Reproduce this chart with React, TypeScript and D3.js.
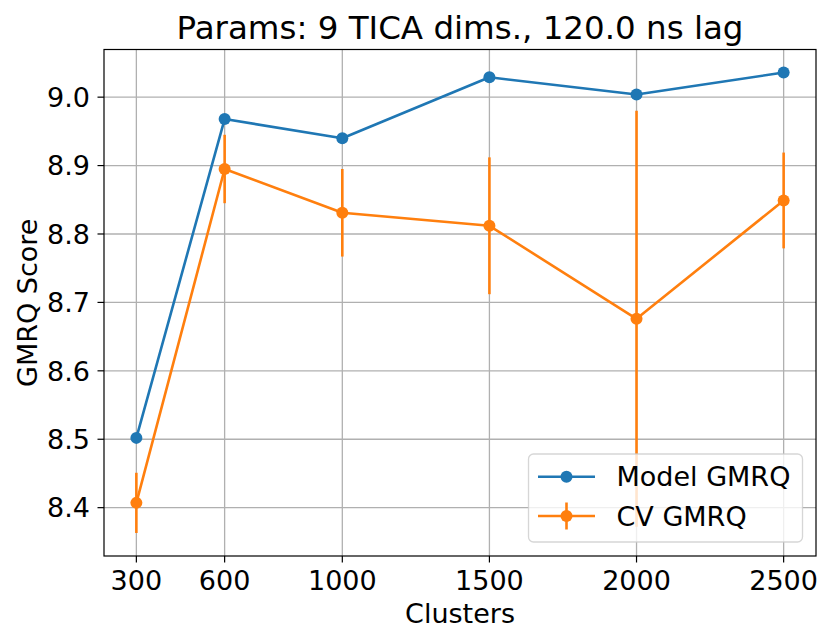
import React from "react";
import * as d3 from "d3";

// Number of clusters tested
const clusters = [300, 600, 1000, 1500, 2000, 2500];
// GMRQ score of the fitted model on the training data
const modelScores = [8.502, 8.968, 8.94, 9.029, 9.004, 9.036];
// Cross-validated GMRQ score (mean) and its spread
const cvScores = [8.407, 8.895, 8.831, 8.812, 8.676, 8.849];
const cvErrors = [0.044, 0.05, 0.064, 0.1, 0.304, 0.07];
// Axis ticks
const xTicks = [300, 600, 1000, 1500, 2000, 2500];
const yTicks = [8.4, 8.5, 8.6, 8.7, 8.8, 8.9, 9.0];

const W = 822;
const H = 630;
const M = { left: 104, right: 816, top: 49.5, bottom: 556 };
const FONT = "'DejaVu Sans', sans-serif";
const BLUE = "#1f77b4";
const ORANGE = "#ff7f0e";

export default function App() {
  const xMin = d3.min(clusters)!;
  const xMax = d3.max(clusters)!;
  const xPad = (xMax - xMin) * 0.05;
  const x = d3.scaleLinear().domain([xMin - xPad, xMax + xPad]).range([M.left, M.right]);

  const lo = d3.min(cvScores.map((v, i) => v - cvErrors[i]))!;
  const hi = d3.max([...modelScores, ...cvScores.map((v, i) => v + cvErrors[i])])!;
  const yPad = (hi - lo) * 0.05;
  const y = d3.scaleLinear().domain([lo - yPad, hi + yPad]).range([M.bottom, M.top]);

  const line = d3
    .line<number>()
    .x((_, i) => x(clusters[i]))
    .y((v) => y(v));

  const lw = 2.6;
  const r = 6;

  const legX = 528.5;
  const legY = 454;
  const legW = 274;
  const legH = 88;
  const row1 = 476.7;
  const row2 = 516;
  const hx0 = 538;
  const hx1 = 595;
  const hxm = (hx0 + hx1) / 2;

  return (
    <svg width={W} height={H} style={{ display: "block", position: "absolute", left: 0, top: 0 }} fontFamily={FONT}>
      <rect width={W} height={H} fill="#fff" />
      {/* grid */}
      <g stroke="#b0b0b0" strokeWidth={1.3}>
        {xTicks.map((t) => (
          <line key={`gx${t}`} x1={x(t)} x2={x(t)} y1={M.top} y2={M.bottom} />
        ))}
        {yTicks.map((t) => (
          <line key={`gy${t}`} x1={M.left} x2={M.right} y1={y(t)} y2={y(t)} />
        ))}
      </g>

      {/* model series */}
      <path d={line(modelScores)!} fill="none" stroke={BLUE} strokeWidth={lw} strokeLinejoin="round" />
      {modelScores.map((v, i) => (
        <circle key={`m${i}`} cx={x(clusters[i])} cy={y(v)} r={r} fill={BLUE} />
      ))}

      {/* cross-validated series with error bars */}
      {cvScores.map((v, i) => (
        <line
          key={`e${i}`}
          x1={x(clusters[i])}
          x2={x(clusters[i])}
          y1={y(v - cvErrors[i])}
          y2={y(v + cvErrors[i])}
          stroke={ORANGE}
          strokeWidth={lw}
        />
      ))}
      <path d={line(cvScores)!} fill="none" stroke={ORANGE} strokeWidth={lw} strokeLinejoin="round" />
      {cvScores.map((v, i) => (
        <circle key={`c${i}`} cx={x(clusters[i])} cy={y(v)} r={r} fill={ORANGE} />
      ))}

      {/* spines */}
      <rect
        x={M.left}
        y={M.top}
        width={M.right - M.left}
        height={M.bottom - M.top}
        fill="none"
        stroke="#000"
        strokeWidth={1.2}
      />

      {/* x axis ticks */}
      {xTicks.map((t) => (
        <g key={`xt${t}`}>
          <line x1={x(t)} x2={x(t)} y1={M.bottom} y2={M.bottom + 6.5} stroke="#000" strokeWidth={1.2} />
          <text x={x(t)} y={589.5} textAnchor="middle" fontSize={27} fill="#000">
            {String(t)}
          </text>
        </g>
      ))}
      {/* y axis ticks */}
      {yTicks.map((t) => (
        <g key={`yt${t}`}>
          <line x1={M.left - 6.5} x2={M.left} y1={y(t)} y2={y(t)} stroke="#000" strokeWidth={1.2} />
          <text x={90} y={y(t)} dy="0.36em" textAnchor="end" fontSize={27} fill="#000">
            {t.toFixed(1)}
          </text>
        </g>
      ))}

      {/* axis labels and title */}
      <text x={(M.left + M.right) / 2} y={623} textAnchor="middle" fontSize={27} fill="#000">
        Clusters
      </text>
      <text
        transform={`translate(36.5, ${(M.top + M.bottom) / 2}) rotate(-90)`}
        textAnchor="middle"
        fontSize={27}
        fill="#000"
      >
        GMRQ Score
      </text>
      <text x={(M.left + M.right) / 2} y={38.5} textAnchor="middle" fontSize={32.5} fill="#000">
        Params: 9 TICA dims., 120.0 ns lag
      </text>

      {/* legend */}
      <rect
        x={legX}
        y={legY}
        width={legW}
        height={legH}
        rx={5}
        fill="#fff"
        fillOpacity={0.8}
        stroke="#cccccc"
        strokeOpacity={0.8}
        strokeWidth={1.3}
      />
      <line x1={hx0} x2={hx1} y1={row1} y2={row1} stroke={BLUE} strokeWidth={lw} />
      <circle cx={hxm} cy={row1} r={r} fill={BLUE} />
      <text x={616.5} y={row1} dy="0.36em" fontSize={27} fill="#000">
        Model GMRQ
      </text>
      <line x1={hx0} x2={hx1} y1={row2} y2={row2} stroke={ORANGE} strokeWidth={lw} />
      <line x1={hxm} x2={hxm} y1={row2 - 13.5} y2={row2 + 13.5} stroke={ORANGE} strokeWidth={lw} />
      <circle cx={hxm} cy={row2} r={r} fill={ORANGE} />
      <text x={616.5} y={row2} dy="0.36em" fontSize={27} fill="#000">
        CV GMRQ
      </text>
    </svg>
  );
}
